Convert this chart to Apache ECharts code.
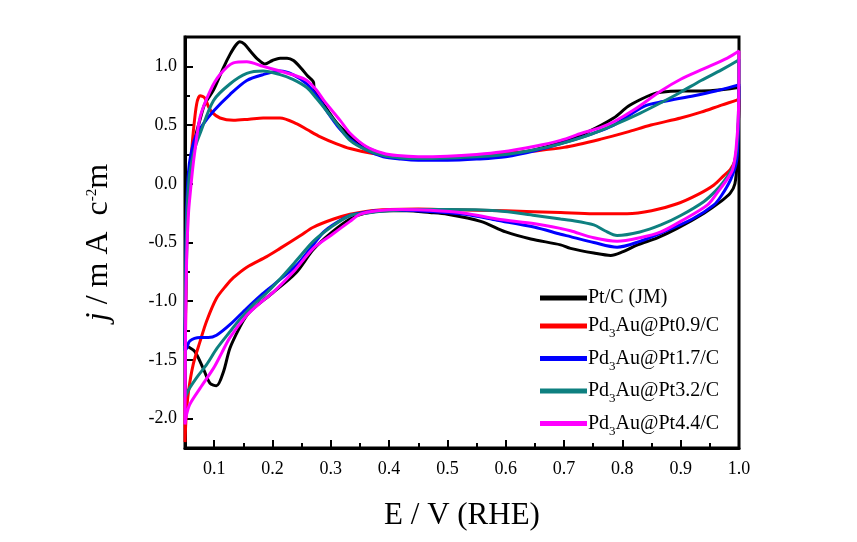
<!DOCTYPE html>
<html>
<head>
<meta charset="utf-8">
<script src="https://cdn.jsdelivr.net/npm/echarts@6/dist/echarts.min.js"></script>
<style>html,body{margin:0;padding:0;background:#fff;}#c{width:857px;height:542px;}</style>
</head>
<body>
<div id="c"></div>
<script>
// Series names
const seriesNames = ['Pt/C (JM)', 'Pd3Au@Pt0.9/C', 'Pd3Au@Pt1.7/C', 'Pd3Au@Pt3.2/C', 'Pd3Au@Pt4.4/C'];
const seriesColors = ['#000000', '#ff0000', '#0000ff', '#0e8080', '#ff00ff'];

// Tick values
const xLabelValues = [0.1, 0.2, 0.3, 0.4, 0.5, 0.6, 0.7, 0.8, 0.9, 1.0];
const xMinorTickValues = [0.15, 0.25, 0.35, 0.45, 0.55, 0.65, 0.75, 0.85, 0.95];
const yLabelValues = [-2.0, -1.5, -1.0, -0.5, 0.0, 0.5, 1.0];
const yMinorTickValues = [-1.75, -1.25, -0.75, -0.25, 0.25, 0.75];

// CV loops: [E (V vs RHE), j (mA cm-2)], anodic scan then cathodic scan
const ptC = [
  [0.05,-1.38],[0.052,-0.8],[0.055,-0.2],[0.06,0.15],[0.068,0.4],[0.076,0.55],[0.084,0.68],[0.099,0.8],[0.116,0.99],[0.127,1.10],[0.137,1.18],[0.144,1.21],[0.152,1.19],[0.162,1.13],[0.175,1.06],[0.187,1.02],[0.2,1.05],[0.213,1.07],[0.225,1.07],[0.236,1.05],[0.25,0.98],[0.26,0.92],[0.27,0.87],[0.272,0.8],[0.29,0.66],[0.31,0.52],[0.33,0.42],[0.35,0.34],[0.38,0.27],[0.41,0.23],[0.45,0.21],[0.5,0.21],[0.55,0.22],[0.6,0.25],[0.65,0.29],[0.7,0.36],[0.74,0.44],[0.785,0.56],[0.81,0.66],[0.832,0.72],[0.85,0.76],[0.866,0.78],[0.9,0.79],[0.935,0.79],[0.97,0.8],[0.998,0.82],[1.0,0.83],
  [0.999,0.5],[0.997,0.2],[0.993,0.0],[0.985,-0.08],[0.969,-0.15],[0.94,-0.25],[0.894,-0.38],[0.86,-0.46],[0.826,-0.52],[0.8,-0.58],[0.78,-0.61],[0.751,-0.59],[0.711,-0.55],[0.694,-0.52],[0.643,-0.47],[0.6,-0.41],[0.557,-0.32],[0.5,-0.26],[0.47,-0.245],[0.43,-0.23],[0.4,-0.23],[0.36,-0.25],[0.333,-0.3],[0.3,-0.42],[0.27,-0.56],[0.24,-0.76],[0.2,-0.93],[0.17,-1.05],[0.156,-1.12],[0.144,-1.22],[0.127,-1.40],[0.116,-1.60],[0.104,-1.72],[0.093,-1.70],[0.081,-1.57],[0.067,-1.43],[0.056,-1.39],[0.05,-1.38]
];
const pt09 = [
  [0.05,-2.2],[0.051,-1.2],[0.053,-0.4],[0.056,0.0],[0.06,0.2],[0.064,0.43],[0.07,0.68],[0.076,0.75],[0.084,0.73],[0.09,0.66],[0.096,0.61],[0.11,0.56],[0.133,0.54],[0.16,0.55],[0.184,0.56],[0.213,0.56],[0.242,0.51],[0.26,0.46],[0.282,0.40],[0.31,0.34],[0.333,0.30],[0.37,0.26],[0.42,0.23],[0.47,0.22],[0.5,0.23],[0.55,0.24],[0.6,0.26],[0.65,0.28],[0.7,0.31],[0.763,0.38],[0.808,0.44],[0.849,0.50],[0.9,0.56],[0.935,0.61],[0.97,0.67],[0.995,0.71],[1.0,0.72],
  [0.998,0.4],[0.993,0.2],[0.985,0.12],[0.974,0.07],[0.957,-0.01],[0.93,-0.09],[0.894,-0.17],[0.85,-0.23],[0.808,-0.255],[0.75,-0.255],[0.694,-0.245],[0.6,-0.23],[0.5,-0.22],[0.45,-0.215],[0.4,-0.22],[0.36,-0.235],[0.333,-0.26],[0.305,-0.30],[0.27,-0.37],[0.248,-0.44],[0.213,-0.55],[0.19,-0.62],[0.156,-0.71],[0.133,-0.80],[0.12,-0.87],[0.104,-0.975],[0.087,-1.17],[0.076,-1.34],[0.064,-1.54],[0.056,-1.77],[0.052,-1.98],[0.05,-2.2]
];
const pt17 = [
  [0.05,-1.42],[0.051,-0.8],[0.053,-0.2],[0.056,0.1],[0.06,0.25],[0.068,0.4],[0.08,0.5],[0.099,0.62],[0.127,0.76],[0.156,0.88],[0.184,0.93],[0.213,0.96],[0.235,0.93],[0.259,0.85],[0.28,0.72],[0.293,0.62],[0.315,0.47],[0.333,0.38],[0.36,0.29],[0.39,0.23],[0.42,0.21],[0.45,0.20],[0.5,0.20],[0.55,0.21],[0.6,0.23],[0.65,0.28],[0.7,0.35],[0.75,0.43],[0.785,0.50],[0.837,0.66],[0.87,0.70],[0.923,0.75],[0.96,0.79],[0.998,0.84],[1.0,0.85],
  [0.999,0.5],[0.996,0.2],[0.986,0.04],[0.97,-0.1],[0.957,-0.18],[0.92,-0.3],[0.866,-0.42],[0.83,-0.49],[0.791,-0.54],[0.751,-0.50],[0.711,-0.45],[0.694,-0.43],[0.65,-0.37],[0.585,-0.31],[0.53,-0.26],[0.47,-0.235],[0.42,-0.225],[0.38,-0.23],[0.35,-0.25],[0.333,-0.27],[0.31,-0.33],[0.288,-0.41],[0.265,-0.55],[0.242,-0.69],[0.202,-0.86],[0.18,-0.95],[0.156,-1.06],[0.127,-1.20],[0.104,-1.29],[0.09,-1.31],[0.076,-1.31],[0.058,-1.34],[0.053,-1.40],[0.05,-1.42]
];
const pt32 = [
  [0.05,-1.82],[0.051,-1.0],[0.053,-0.3],[0.057,0.05],[0.062,0.2],[0.068,0.32],[0.076,0.43],[0.099,0.71],[0.127,0.85],[0.156,0.94],[0.184,0.96],[0.213,0.93],[0.235,0.89],[0.259,0.82],[0.275,0.73],[0.293,0.62],[0.315,0.48],[0.333,0.37],[0.36,0.29],[0.39,0.24],[0.42,0.22],[0.45,0.215],[0.5,0.22],[0.55,0.23],[0.6,0.25],[0.65,0.29],[0.694,0.34],[0.74,0.41],[0.785,0.50],[0.83,0.60],[0.866,0.69],[0.9,0.78],[0.935,0.88],[0.97,0.97],[0.998,1.05],[1.0,1.06],
  [0.999,0.6],[0.996,0.3],[0.99,0.15],[0.974,0.02],[0.96,-0.06],[0.94,-0.15],[0.9,-0.27],[0.866,-0.35],[0.83,-0.41],[0.791,-0.44],[0.77,-0.40],[0.751,-0.35],[0.711,-0.31],[0.694,-0.30],[0.65,-0.27],[0.585,-0.23],[0.5,-0.22],[0.45,-0.22],[0.4,-0.23],[0.36,-0.25],[0.333,-0.27],[0.3,-0.37],[0.27,-0.49],[0.24,-0.66],[0.213,-0.81],[0.19,-0.93],[0.167,-1.03],[0.145,-1.15],[0.127,-1.26],[0.105,-1.40],[0.087,-1.54],[0.07,-1.65],[0.058,-1.74],[0.05,-1.82]
];
const pt44 = [
  [0.05,-2.05],[0.051,-1.2],[0.053,-0.6],[0.056,-0.25],[0.059,-0.08],[0.063,0.12],[0.067,0.28],[0.076,0.57],[0.093,0.79],[0.11,0.93],[0.133,1.03],[0.156,1.04],[0.184,1.00],[0.213,0.96],[0.24,0.92],[0.259,0.88],[0.275,0.80],[0.288,0.71],[0.316,0.54],[0.333,0.43],[0.36,0.32],[0.39,0.26],[0.414,0.24],[0.45,0.23],[0.5,0.235],[0.55,0.25],[0.591,0.27],[0.65,0.32],[0.694,0.37],[0.73,0.43],[0.763,0.48],[0.786,0.53],[0.82,0.63],[0.866,0.79],[0.9,0.89],[0.94,0.98],[0.98,1.07],[1.0,1.13],
  [0.999,0.6],[0.995,0.3],[0.989,0.12],[0.98,0.04],[0.965,-0.06],[0.946,-0.18],[0.9,-0.32],[0.866,-0.41],[0.83,-0.46],[0.791,-0.49],[0.751,-0.46],[0.711,-0.40],[0.694,-0.38],[0.65,-0.34],[0.585,-0.30],[0.53,-0.25],[0.47,-0.225],[0.42,-0.22],[0.38,-0.23],[0.35,-0.26],[0.333,-0.32],[0.3,-0.44],[0.27,-0.55],[0.236,-0.75],[0.202,-0.92],[0.18,-1.01],[0.156,-1.12],[0.127,-1.31],[0.113,-1.44],[0.099,-1.57],[0.076,-1.74],[0.058,-1.88],[0.052,-1.98],[0.05,-2.05]
];
const seriesData = [ptC, pt09, pt17, pt32, pt44];

const FONT = 'Liberation Serif';
const AX = {color: '#000', width: 3};
const chart = echarts.init(document.getElementById('c'), null, {renderer: 'canvas'});
chart.setOption({
  animation: false,
  backgroundColor: '#fff',
  grid: {left: 185, right: 118, top: 37, bottom: 94, show: true, borderColor: '#000', borderWidth: 3, backgroundColor: 'transparent'},
  xAxis: [{
    type: 'value', min: 0.05, max: 1.0, position: 'bottom',
    name: 'E / V (RHE)', nameLocation: 'middle', nameGap: 52,
    nameTextStyle: {fontFamily: FONT, fontSize: 31, color: '#000'},
    axisLine: {show: true, onZero: false, lineStyle: AX},
    axisTick: {show: true, inside: true, length: 8, lineStyle: {color: '#000', width: 2}, customValues: xLabelValues},
    axisLabel: {fontFamily: FONT, fontSize: 18, color: '#000', margin: 12, customValues: xLabelValues,
      formatter: v => v.toFixed(1)},
    splitLine: {show: false}
  }, {
    type: 'value', min: 0.05, max: 1.0, position: 'bottom', offset: 0,
    axisLine: {show: false, onZero: false},
    axisTick: {show: true, inside: true, length: 5, lineStyle: {color: '#000', width: 2}, customValues: xMinorTickValues},
    axisLabel: {show: false},
    splitLine: {show: false}
  }],
  yAxis: [{
    type: 'value', min: -2.25, max: 1.25, position: 'left',
    name: '{i|j} / m A  c{sup|-2}m', nameLocation: 'middle', nameGap: 70, nameRotate: 90,
    nameTextStyle: {fontFamily: FONT, fontSize: 32, color: '#000',
      rich: {
        i: {fontFamily: FONT, fontSize: 32, fontStyle: 'italic', color: '#000'},
        sup: {fontFamily: FONT, fontSize: 15, color: '#000', padding: [0, 0, 14, 0]}
      }},
    axisLine: {show: true, onZero: false, lineStyle: AX},
    axisTick: {show: true, inside: true, length: 8, lineStyle: {color: '#000', width: 2}, customValues: yLabelValues},
    axisLabel: {fontFamily: FONT, fontSize: 18, color: '#000', margin: 8, customValues: yLabelValues,
      formatter: v => v.toFixed(1)},
    splitLine: {show: false}
  }, {
    type: 'value', min: -2.25, max: 1.25, position: 'left', offset: 0,
    axisLine: {show: false, onZero: false},
    axisTick: {show: true, inside: true, length: 5, lineStyle: {color: '#000', width: 2}, customValues: yMinorTickValues},
    axisLabel: {show: false},
    splitLine: {show: false}
  }],
  legend: {
    orient: 'vertical', left: 540, top: 288, padding: 0,
    icon: 'rect', itemWidth: 47, itemHeight: 5, itemGap: 8,
    data: seriesNames,
    formatter: name => name.replace('Pd3Au', 'Pd{sub|3}Au'),
    textStyle: {fontFamily: FONT, fontSize: 20, color: '#000', padding: [0, 0, 0, -4],
      rich: {sub: {fontFamily: FONT, fontSize: 13, color: '#000', padding: [16, 0, 0, 0]}}}
  },
  series: seriesNames.map((n, i) => ({
    name: n, type: 'line', data: seriesData[i], showSymbol: false, symbol: 'none',
    xAxisIndex: 0, yAxisIndex: 0,
    smooth: 0.3, lineStyle: {color: seriesColors[i], width: 3}, itemStyle: {color: seriesColors[i]}
  }))
});
</script>
</body>
</html>
